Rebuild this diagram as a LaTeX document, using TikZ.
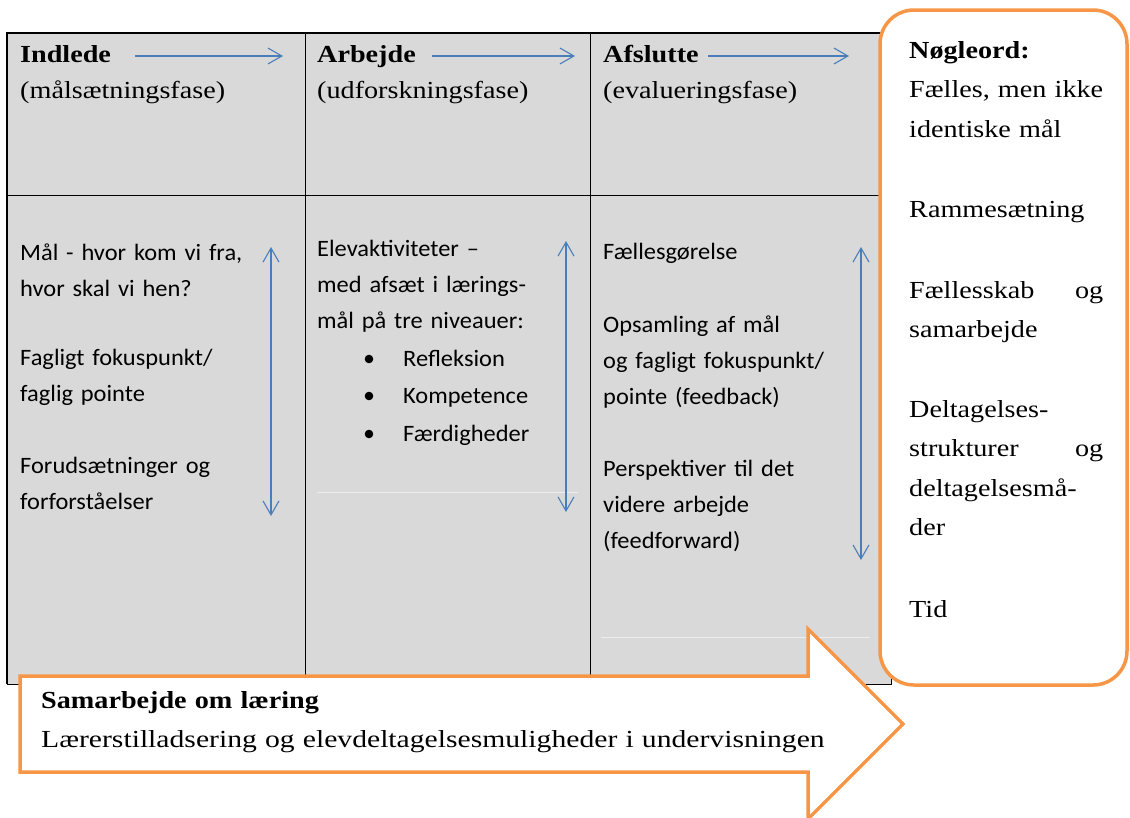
\documentclass[tikz,border=0pt]{standalone}
\usepackage{fontspec}
\setmainfont{Liberation Serif}[FakeStretch=1.15]
\newfontfamily\widefont{Liberation Serif}[FakeStretch=1.21]
\newfontfamily\cellfont{Carlito}[FakeStretch=1.04]
\usetikzlibrary{arrows.meta}

\definecolor{cellgray}{HTML}{D9D9D9}
\definecolor{faintgray}{HTML}{EDEDED}
\definecolor{flowblue}{HTML}{4A7EBB}
\definecolor{keyorange}{HTML}{F79646}

\tikzset{
  phasehead/.style={anchor=base west, inner sep=0pt, font=\fontsize{24.5}{36}\selectfont\bfseries},
  phasesub/.style={anchor=base west, inner sep=0pt, font=\fontsize{24.5}{36}\selectfont},
  celltext/.style={anchor=base west, inner sep=0pt, text width=260pt, align=left,
    font=\cellfont\fontsize{23.5}{36}\selectfont},
  keytext/.style={anchor=base west, inner sep=0pt, text width=194pt, align=left,
    font=\fontsize{24.5}{39.5}\selectfont},
  flow/.style={flowblue, line width=1.1pt, -{Straight Barb[length=14pt,width=16pt]}},
  span/.style={flowblue, line width=1.1pt,
    {Straight Barb[length=14pt,width=16pt]}-{Straight Barb[length=14pt,width=16pt]}},
  bigbox/.style={keyorange, line width=3.5pt, fill=white},
}

\begin{document}
\begin{tikzpicture}[x=1pt,y=-1pt]
  \useasboundingbox (0,0) rectangle (1130,817);
  % Table
  \fill[cellgray] (7,33) rectangle (891,684);
  \draw[line width=1pt] (305,33) -- (305,684) (590,33) -- (590,684)
    (7,195) -- (891,195) (891,33) -- (891,684) -- (7,684);
  \draw[line width=2pt] (7,684) -- (7,33) -- (891,33);
  \draw[faintgray, line width=1pt] (317,492) -- (578,492) (601,637) -- (870,637);

  % Phases
  \node[phasehead] (indlede) at (20,62) {Indlede};
  \node[phasesub]  (indledesub) at (20,98) {(målsætningsfase)};
  \node[phasehead] (arbejde) at (317,62) {Arbejde};
  \node[phasesub]  (arbejdesub) at (317,98) {(udforskningsfase)};
  \node[phasehead] (afslutte) at (603,62) {Afslutte};
  \node[phasesub]  (afsluttesub) at (603,98) {(evalueringsfase)};
  \coordinate (flow1s) at (135,56); \coordinate (flow1e) at (283,56);
  \coordinate (flow2s) at (432,56); \coordinate (flow2e) at (575,56);
  \coordinate (flow3s) at (708,56); \coordinate (flow3e) at (849,56);
  \draw[flow] (flow1s) -- (flow1e);
  \draw[flow] (flow2s) -- (flow2e);
  \draw[flow] (flow3s) -- (flow3e);

  % Indlede cell
  \node[celltext] (maal) at (20,260) {Mål - hvor kom vi fra,\\hvor skal vi hen?};
  \node[celltext] (fokus) at (20,365) {Fagligt fokuspunkt/\\faglig pointe};
  \node[celltext] (forud) at (20,473) {Forudsætninger og\\forforståelser};
  \coordinate (span1t) at (271,247); \coordinate (span1b) at (271,516);
  \draw[span] (span1t) -- (span1b);

  % Arbejde cell
  \node[celltext] (elev) at (317,256) {Elevaktiviteter –\\med afsæt i lærings-\\mål på tre niveauer:};
  \foreach \y/\item [count=\i] in {366/Refleksion,403/Kompetence,441/Færdigheder} {
    \fill (369,\y-7) circle (4.3pt);
    \node[celltext] (niveau\i) at (403,\y) {\item};
  }
  \coordinate (span2t) at (566,241); \coordinate (span2b) at (566,512);
  \draw[span] (span2t) -- (span2b);

  % Afslutte cell
  \node[celltext] (faelles) at (603,259) {Fællesgørelse};
  \node[celltext] (opsaml) at (603,332) {Opsamling af mål\\og fagligt fokuspunkt/\\pointe (feedback)};
  \node[celltext] (persp) at (603,476) {Perspektiver til det\\videre arbejde\\(feedforward)};
  \coordinate (span3t) at (861,247); \coordinate (span3b) at (861,560);
  \draw[span] (span3t) -- (span3b);

  % Keywords
  \draw[bigbox, rounded corners=34pt] (880,10) rectangle (1127,685);
  \node[keytext] (key1) at (909,58) {\textbf{Nøgleord:}\\Fælles, men ikke\\identiske mål};
  \node[keytext] (key2) at (909,217) {Rammesætning};
  \node[keytext] (key3) at (909,298) {\makebox[194pt][l]{Fællesskab\hfill og}\\samarbejde};
  \node[keytext] (key4) at (909,417) {Deltagelses-\\\makebox[194pt][l]{strukturer\hfill og}\\deltagelsesmå-\\der};
  \node[keytext] (key5) at (909,617) {Tid};

  % Samarbejde arrow
  \draw[bigbox, line join=miter] (20,676) -- (808,676) -- (808,629) -- (903,724)
    -- (808,819) -- (808,772) -- (20,772) -- cycle;
  \node[keytext, text width=820pt] (samarb) at (41,708)
    {\textbf{Samarbejde om læring}\\{\widefont Lærerstilladsering og elevdeltagelsesmuligheder i undervisningen}};
\end{tikzpicture}
\end{document}
